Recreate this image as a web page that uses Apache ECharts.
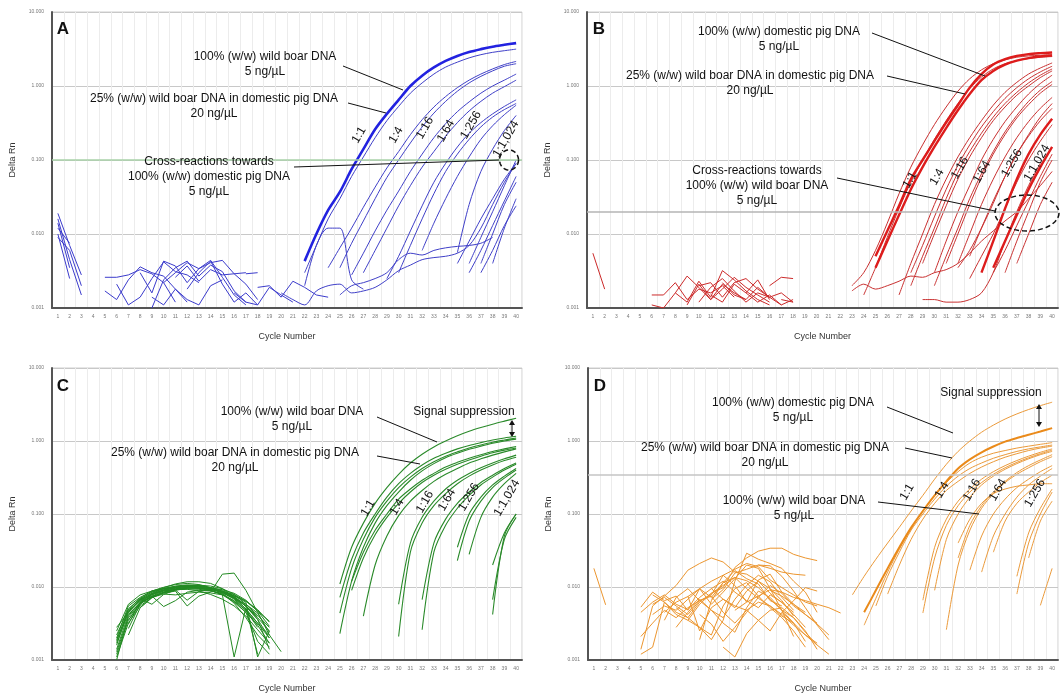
<!DOCTYPE html>
<html>
<head>
<meta charset="utf-8">
<script src="https://cdn.jsdelivr.net/npm/echarts@6/dist/echarts.min.js"></script>
<style>html,body{margin:0;padding:0;background:#fff}#chart{width:1064px;height:694px}</style>
</head>
<body>
<div id="chart"></div>
<script>
// cycle numbers (x categories)
var cycles = ['1','2','3','4','5','6','7','8','9','10','11','12','13','14','15','16','17','18','19','20',
              '21','22','23','24','25','26','27','28','29','30','31','32','33','34','35','36','37','38','39','40'];
var yTicks = [0.001, 0.01, 0.1, 1, 10];
var thresholds = [0.1, 0.019, null, 0.35];

// every curve: [first cycle, [Delta Rn values...]]
// ---- A : wild boar assay
var aMain = [
	[22, [0.0043,0.010,0.021,0.037,0.075,0.14,0.26,0.42,0.65,1.0,1.38,1.78,2.18,2.55,2.88,3.15,3.4,3.6,3.8]]
];
var aCurves = [
	[22, [0.003,0.007,0.016,0.03,0.06,0.11,0.2,0.34,0.53,0.8,1.1,1.45,1.8,2.1,2.4,2.65,2.85,3.0,3.15]],
	[24, [0.0035,0.0065,0.012,0.023,0.043,0.078,0.13,0.22,0.35,0.52,0.72,0.95,1.2,1.45,1.7,1.95,2.15]],
	[25, [0.0035,0.0075,0.015,0.03,0.058,0.1,0.17,0.28,0.43,0.62,0.85,1.1,1.35,1.6,1.85,2.0]],
	[26, [0.0028,0.0055,0.011,0.021,0.038,0.07,0.12,0.2,0.31,0.45,0.61,0.8,1.0,1.2,1.45]],
	[27, [0.003,0.006,0.012,0.024,0.045,0.08,0.13,0.21,0.32,0.46,0.62,0.8,0.98,1.2]],
	[29, [0.0025,0.005,0.011,0.024,0.05,0.09,0.15,0.23,0.32,0.42,0.53,0.65]],
	[30, [0.003,0.007,0.016,0.035,0.07,0.12,0.19,0.28,0.38,0.48,0.58]],
	[32, [0.006,0.014,0.03,0.06,0.11,0.19,0.29,0.41,0.55]],
	[35, [0.0056,0.025,0.07,0.14,0.25,0.4]],
	[35, [0.004,0.008,0.016,0.03,0.055,0.09]],
	[36, [0.004,0.009,0.02,0.045,0.1]],
	[36, [0.003,0.006,0.013,0.028,0.06]],
	[37, [0.004,0.01,0.025,0.05]],
	[38, [0.004,0.012,0.03]],
	[37, [0.003,0.006,0.013,0.024]],
	[20, [0.0016,0.0013,0.0011,0.0017,0.002,0.0021,0.0016,0.0017,0.0019,0.0024,0.0032,0.0038,0.0045,0.0048,0.005,0.0055,0.007,0.012,0.025,0.05,0.09]],
	[22, [0.002,0.007,0.012,0.012,0.0024,0.0018]],
	[25, [0.0015,0.002,0.0022,0.0025,0.003,0.0045,0.0055,0.0052,0.006,0.0065,0.0068,0.007,0.0075,0.009]]
];
var aNoise = [
	[1, [0.019,0.007,0.0028]], [1, [0.016,0.0045,0.0015]], [1, [0.012,0.0075]],
	[1, [0.010,0.0025]], [1, [0.009,0.006,0.002]], [1, [0.014,0.0035]],
	[5, [0.0026,0.0026,0.0028,0.0033,0.0029,0.0022,0.0012]],
	[5, [0.0017,0.0013,0.0024,0.0036,0.003,0.0027,0.0018,0.0012]],
	[6, [0.0021,0.0011,0.0014,0.0025,0.0042,0.0031,0.0028,0.0022]],
	[8, [0.003,0.0016,0.0043,0.0037,0.0022,0.0034,0.0044,0.0026,0.0015,0.0011]],
	[9, [0.001,0.0024,0.0035,0.0043,0.0027,0.0038,0.0031,0.0017,0.0012]],
	[10, [0.0022,0.003,0.0041,0.0034,0.0041,0.0044,0.0029,0.0021,0.0013]],
	[11, [0.0026,0.0037,0.0023,0.0033,0.0028,0.0029,0.003]],
	[12, [0.0018,0.003,0.0043,0.0021,0.0012,0.0016,0.0011]],
	[9, [0.0014,0.0011,0.0018,0.0013,0.0011,0.002,0.0024]],
	[16, [0.0016,0.0012,0.0011,0.0019,0.0015,0.0012]],
	[18, [0.0019,0.002,0.0014,0.0023,0.0019,0.0015,0.0014]],
	[17, [0.0029,0.003]]
];

// ---- B : domestic pig assay
var bMain = [
	[25, [0.005,0.011,0.024,0.055,0.1,0.18,0.32,0.55,0.95,1.45,1.95,2.3,2.55,2.7,2.78,2.84]],
	[25, [0.0035,0.008,0.018,0.04,0.08,0.15,0.27,0.47,0.78,1.2,1.6,1.95,2.2,2.38,2.5,2.58]],
	[34, [0.003,0.008,0.022,0.055,0.12,0.22,0.36]],
	[35, [0.0035,0.008,0.018,0.04,0.08,0.15]]
];
var bCurves = [
	[23, [0.002,0.003,0.006,0.014,0.035,0.08,0.16,0.3,0.52,0.85,1.25,1.65,2.0,2.25,2.45,2.55,2.6,2.65]],
	[24, [0.0015,0.0035,0.009,0.022,0.05,0.1,0.19,0.34,0.58,0.92,1.32,1.7,2.0,2.2,2.35,2.45,2.5]],
	[28, [0.003,0.007,0.017,0.04,0.085,0.16,0.28,0.45,0.68,0.95,1.25,1.55,1.85]],
	[29, [0.004,0.01,0.024,0.055,0.11,0.2,0.34,0.52,0.75,1.0,1.3,1.6]],
	[28, [0.002,0.005,0.012,0.03,0.068,0.13,0.23,0.38,0.58,0.82,1.1,1.4,1.7]],
	[27, [0.0015,0.004,0.01,0.025,0.055,0.11,0.2,0.34,0.55,0.82,1.12,1.45,1.75,2.05]],
	[30, [0.003,0.008,0.02,0.045,0.1,0.19,0.33,0.52,0.78,1.08,1.4]],
	[30, [0.002,0.005,0.012,0.03,0.065,0.13,0.24,0.4,0.62,0.88,1.15]],
	[31, [0.004,0.01,0.025,0.058,0.12,0.22,0.37,0.56,0.8,1.05]],
	[32, [0.004,0.01,0.025,0.055,0.11,0.2,0.33,0.5,0.7]],
	[32, [0.0035,0.006,0.012,0.026,0.06,0.12,0.22,0.38,0.58]],
	[33, [0.005,0.012,0.028,0.06,0.12,0.21,0.34,0.5]],
	[35, [0.003,0.006,0.013,0.028,0.06,0.12]],
	[36, [0.003,0.008,0.02,0.05,0.1]],
	[37, [0.004,0.01,0.025,0.05]],
	[33, [0.0025,0.005,0.01,0.022,0.05,0.1,0.18,0.3]],
	[23, [0.0017,0.0021,0.0018,0.002,0.0023,0.0027,0.0026,0.003,0.0033,0.004,0.0055,0.008,0.011,0.015,0.02,0.03,0.045,0.07]],
	[29, [0.0013,0.0013,0.0012,0.0012,0.0013,0.0016,0.003,0.008,0.02,0.045,0.09]]
];
var bNoise = [
	[1, [0.0055,0.0018]],
	[6, [0.0015,0.0015,0.0022,0.0013,0.0018,0.0016,0.002,0.0014]],
	[6, [0.0011,0.001,0.0016,0.0027,0.0019,0.0013,0.0021,0.0016,0.0013]],
	[8, [0.0016,0.0012,0.0023,0.0014,0.0032,0.0024,0.0017,0.0013,0.0011]],
	[9, [0.0011,0.0021,0.0013,0.0018,0.0026,0.0019,0.0015,0.0012]],
	[10, [0.002,0.0022,0.0014,0.0022,0.0025,0.0018,0.0014,0.0011]],
	[10, [0.0012,0.0019,0.0025,0.0017,0.0012,0.0016,0.0014]],
	[11, [0.0015,0.0012,0.0021,0.0016,0.0024,0.0013]],
	[12, [0.0022,0.0015,0.0013,0.0019,0.0014,0.0016,0.0012]],
	[16, [0.002,0.0026,0.0025]],
	[14, [0.0016,0.0012,0.0015,0.0011,0.0013]],
	[17, [0.0013,0.0012]]
];

// ---- C : wild boar assay, mixtures
var cCurves = [
	[25, [0.011,0.035,0.075,0.14,0.23,0.35,0.5,0.66,0.83,1.0,1.18,1.36,1.53,1.7,1.87,2.05]],
	[25, [0.0072,0.024,0.055,0.1,0.17,0.26,0.36,0.47,0.58,0.68,0.78,0.87,0.95,1.03,1.1,1.16]],
	[25, [0.0044,0.018,0.045,0.09,0.15,0.23,0.32,0.42,0.52,0.62,0.71,0.8,0.88,0.96,1.03,1.1]],
	[25, [0.0023,0.012,0.035,0.075,0.13,0.2,0.29,0.39,0.49,0.59,0.68,0.77,0.85,0.93,1.0,1.06]],
	[27, [0.004,0.02,0.05,0.095,0.15,0.21,0.28,0.35,0.42,0.5,0.57,0.64,0.71,0.78]],
	[26, [0.012,0.03,0.06,0.1,0.16,0.22,0.29,0.36,0.44,0.51,0.58,0.65,0.72,0.78,0.84]],
	[26, [0.009,0.025,0.052,0.09,0.14,0.2,0.27,0.34,0.41,0.48,0.55,0.62,0.69,0.75,0.8]],
	[30, [0.0021,0.03,0.075,0.13,0.19,0.26,0.33,0.4,0.47,0.54,0.6]],
	[30, [0.0058,0.04,0.09,0.15,0.22,0.29,0.36,0.43,0.5,0.57,0.64]],
	[32, [0.0026,0.03,0.07,0.12,0.18,0.25,0.32,0.4,0.48]],
	[32, [0.0067,0.04,0.085,0.14,0.2,0.27,0.34,0.42,0.5]],
	[35, [0.023,0.08,0.15,0.23,0.31,0.4]],
	[35, [0.035,0.1,0.17,0.25,0.33,0.42]],
	[36, [0.028,0.09,0.17,0.26,0.36]],
	[38, [0.0042,0.05,0.1]],
	[38, [0.0067,0.045,0.09]],
	[38, [0.02,0.055,0.1]]
];
var cNoise = [
	[6, [0.0028,0.0045,0.0068,0.0085,0.0095,0.01,0.0105,0.01,0.0095,0.0085,0.007,0.005,0.0032,0.002]],
	[6, [0.0012,0.0035,0.0058,0.0075,0.0088,0.0095,0.0098,0.0096,0.009,0.0078,0.0062,0.0045,0.003,0.0017]],
	[6, [0.002,0.0055,0.0072,0.0088,0.0099,0.0108,0.0112,0.0108,0.0098,0.0085,0.0068,0.0048,0.0028]],
	[6, [0.0016,0.0048,0.0065,0.0082,0.0095,0.0103,0.0107,0.0105,0.0097,0.0082,0.006,0.0038,0.0022,0.0015]],
	[7, [0.0022,0.0052,0.0072,0.0085,0.0093,0.0098,0.0096,0.009,0.0079,0.0065,0.0048,0.003]],
	[6, [0.001,0.004,0.0062,0.0078,0.0088,0.0092,0.0093,0.0088,0.0079,0.0068,0.0055,0.004,0.0026,0.0017]],
	[6, [0.0025,0.0058,0.0078,0.0088,0.0095,0.0098,0.0102,0.0102,0.0098,0.009,0.0075,0.0055,0.004]],
	[7, [0.0035,0.006,0.0075,0.0054,0.0065,0.0085,0.009,0.0088,0.0082,0.007,0.0055,0.0038,0.0025]],
	[8, [0.006,0.0075,0.0082,0.0088,0.0055,0.0075,0.0085,0.015,0.0155,0.009,0.0045,0.0022,0.0013]],
	[6, [0.0018,0.005,0.007,0.0088,0.0098,0.011,0.0118,0.0118,0.0112,0.0095,0.0072,0.005,0.0032,0.0022]],
	[7, [0.0045,0.0068,0.0085,0.0095,0.0102,0.0105,0.0104,0.0098,0.0088,0.0072,0.0055,0.0036,0.002]],
	[6, [0.0014,0.0042,0.006,0.0072,0.008,0.0078,0.0082,0.0085,0.0083,0.0078,0.0011,0.0052,0.0012]],
	[6, [0.0011,0.0032,0.0055,0.0072,0.0083,0.009,0.0096,0.0099,0.0097,0.0092,0.0082,0.0066,0.0047,0.0029]],
	[6, [0.0019,0.0046,0.0067,0.0081,0.0092,0.0099,0.0102,0.0099,0.0093,0.0084,0.0071,0.0058,0.0044,0.0024]],
	[7, [0.0027,0.0058,0.0079,0.0091,0.0099,0.0104,0.0106,0.0103,0.0095,0.0079,0.0058,0.0041,0.0028]],
	[6, [0.0013,0.0038,0.006,0.0074,0.0085,0.0092,0.0094,0.0093,0.0089,0.008,0.0064,0.0045,0.0018,0.0012]],
	[7, [0.0031,0.0062,0.0081,0.009,0.0098,0.0101,0.0099,0.0094,0.0086,0.0076,0.0064,0.0049,0.0033]],
	[6, [0.0022,0.005,0.0069,0.0058,0.0079,0.0091,0.0066,0.0087,0.0092,0.0086,0.0074,0.0054,0.0036,0.0014]],
	[8, [0.0052,0.0071,0.0084,0.0093,0.0096,0.0097,0.0093,0.0086,0.0076,0.0062,0.0011,0.0025]],
	[6, [0.0017,0.0044,0.0064,0.0079,0.009,0.0096,0.0099,0.0098,0.0093,0.0087,0.0079,0.0064,0.0047,0.0034]]
];

// ---- D : domestic pig assay, mixtures
var dMain = [
	[24, [0.0045,0.009,0.018,0.035,0.065,0.11,0.18,0.28,0.42,0.56,0.7,0.84,0.98,1.1,1.22,1.35,1.5]]
];
var dCurves = [
	[23, [0.0078,0.014,0.024,0.04,0.066,0.11,0.18,0.3,0.48,0.72,1.0,1.32,1.65,2.0,2.35,2.7,3.05,3.4]],
	[24, [0.003,0.007,0.016,0.033,0.063,0.11,0.18,0.27,0.38,0.5,0.6,0.68,0.74,0.8,0.85,0.9,0.95]],
	[25, [0.0055,0.014,0.03,0.06,0.1,0.16,0.24,0.33,0.42,0.5,0.58,0.65,0.72,0.78,0.83,0.88]],
	[26, [0.008,0.02,0.045,0.085,0.14,0.21,0.28,0.36,0.44,0.52,0.6,0.67,0.74,0.8,0.85]],
	[29, [0.0044,0.025,0.07,0.13,0.2,0.27,0.35,0.43,0.51,0.59,0.67,0.75]],
	[29, [0.0066,0.035,0.085,0.15,0.22,0.3,0.38,0.46,0.54,0.62,0.7,0.78]],
	[30, [0.009,0.045,0.1,0.17,0.25,0.33,0.41,0.49,0.57,0.65,0.72]],
	[31, [0.0026,0.02,0.06,0.12,0.19,0.27,0.35,0.43,0.52,0.61]],
	[32, [0.025,0.07,0.13,0.2,0.28,0.37,0.46,0.55,0.65]],
	[32, [0.04,0.085,0.14,0.19,0.22,0.24,0.25,0.26,0.26]],
	[33, [0.017,0.05,0.1,0.16,0.23,0.3,0.38,0.46]],
	[34, [0.016,0.05,0.1,0.17,0.25,0.33,0.42]],
	[35, [0.03,0.08,0.14,0.2,0.27,0.34]],
	[37, [0.008,0.04,0.1,0.2]],
	[37, [0.014,0.055,0.12,0.22]],
	[38, [0.025,0.08,0.15]],
	[39, [0.0056,0.018]]
];
var dNoise = [
	[1, [0.018,0.0057]],
	[5, [0.0053,0.0085,0.0065,0.0075,0.0048,0.0095,0.0072,0.0115,0.0168,0.013,0.011,0.0065,0.0055]],
	[5, [0.0014,0.0055,0.0075,0.0105,0.017,0.021,0.025,0.022,0.016,0.015,0.012,0.0095,0.0065,0.004]],
	[5, [0.0012,0.0015,0.0062,0.0045,0.0038,0.0028,0.0019,0.0035,0.012,0.029,0.024,0.021,0.018,0.012,0.0085,0.0045]],
	[6, [0.0042,0.0055,0.0048,0.0068,0.0095,0.0058,0.0085,0.013,0.02,0.018,0.0095,0.0048,0.0021]],
	[6, [0.0078,0.0062,0.0042,0.0035,0.0028,0.0022,0.0055,0.0095,0.0115,0.0075,0.0052,0.0038,0.0025,0.0015]],
	[7, [0.0035,0.0072,0.0095,0.0065,0.0078,0.0145,0.0105,0.0062,0.0125,0.015,0.0085,0.0058,0.0045]],
	[8, [0.0052,0.0038,0.0062,0.0082,0.0098,0.0185,0.025,0.031,0.034,0.034,0.028,0.025,0.023]],
	[9, [0.0075,0.0025,0.0052,0.0068,0.0055,0.0048,0.0035,0.0025,0.0045,0.0065,0.0098,0.0088]],
	[10, [0.0019,0.0065,0.0115,0.0135,0.0095,0.007,0.0055,0.0042,0.003,0.0022,0.0017]],
	[11, [0.0068,0.0092,0.0155,0.0175,0.02,0.0195,0.014,0.0088,0.0052,0.003,0.0019]],
	[12, [0.0015,0.0011,0.0023,0.0035,0.0048,0.0052,0.0038,0.0025,0.0014]],
	[5, [0.0021,0.0032,0.0048,0.0038,0.0052,0.0065,0.0075,0.0045,0.0032,0.0048,0.0062,0.0055,0.004,0.0032]],
	[15, [0.02,0.018,0.016,0.015,0.0145]],
	[17, [0.0045,0.0032,0.0022,0.0016,0.0012]],
	[16, [0.009,0.0075,0.0058,0.0042,0.0031,0.0022]],
	[5, [0.0045,0.0062,0.0078,0.0058,0.0049,0.0072,0.0095,0.0068,0.0052,0.0088,0.012,0.0082,0.0061,0.0045]],
	[6, [0.0058,0.0072,0.0055,0.0042,0.0065,0.0048,0.0038,0.0068,0.0105,0.0145,0.0118,0.0072,0.0048]],
	[7, [0.0045,0.0062,0.0074,0.0095,0.012,0.0145,0.0175,0.021,0.019,0.0125,0.0098,0.0078,0.0062,0.0055]],
	[8, [0.0028,0.0045,0.0068,0.0048,0.0032,0.0024,0.0052,0.0088,0.0072,0.0048,0.0032,0.0018]],
	[9, [0.0035,0.0058,0.0082,0.0105,0.0135,0.0122,0.0098,0.0068,0.0048,0.0038,0.0024,0.0016]],
	[10, [0.0042,0.0031,0.0018,0.0028,0.0045,0.0072,0.0105,0.0082,0.0055,0.0042,0.0032]],
	[11, [0.0095,0.012,0.0085,0.0065,0.0052,0.0078,0.0062,0.0042,0.0028]],
	[13, [0.0048,0.0062,0.0075,0.0092,0.0085,0.0072,0.0065,0.0058,0.0052,0.0044]]
];

var chart = echarts.init(document.getElementById('chart'));

var grids = [
	{left: 52, top: 12, width: 470, height: 296},
	{left: 587, top: 12, width: 471, height: 296},
	{left: 52, top: 368, width: 470, height: 296},
	{left: 588, top: 368, width: 470, height: 296}
];
grids.forEach(function (g) { g.show = true; g.borderColor = '#cfcfcf'; g.borderWidth = 1; });

var xAxes = [], yAxes = [], series = [];
grids.forEach(function (g, i) {
	xAxes.push({
		type: 'category', gridIndex: i, data: cycles, boundaryGap: true,
		name: 'Cycle Number', nameLocation: 'middle', nameGap: 24,
		nameTextStyle: {fontSize: 9, color: '#333', fontFamily: 'Liberation Sans'},
		axisLine: {lineStyle: {color: '#555', width: 2}},
		axisTick: {show: false},
		axisLabel: {interval: 0, fontSize: 5, color: '#777', margin: 6},
		splitLine: {show: true, interval: 0, lineStyle: {color: '#ececec', width: 1}}
	});
	yAxes.push({
		type: 'log', gridIndex: i, logBase: 10, min: yTicks[0], max: yTicks[yTicks.length - 1],
		name: 'Delta Rn', nameLocation: 'middle', nameGap: 35,
		nameTextStyle: {fontSize: 9, color: '#333', fontFamily: 'Liberation Sans'},
		axisLine: {show: true, lineStyle: {color: '#555', width: 2}},
		axisTick: {show: false},
		axisLabel: {fontSize: 5, color: '#777', margin: 8, formatter: function (v) { return v.toFixed(3); }},
		splitLine: {show: true, lineStyle: {color: '#c8c8c8', width: 1}},
		minorSplitLine: {show: false}
	});
});

function pad(start, vals) {
	var d = [];
	for (var i = 1; i <= cycles.length; i++) {
		var k = i - start;
		d.push(k >= 0 && k < vals.length ? vals[k] : '-');
	}
	return d;
}

function addLines(list, idx, color, width, smooth) {
	list.forEach(function (c) {
		series.push({
			type: 'line', xAxisIndex: idx, yAxisIndex: idx, data: pad(c[0], c[1]),
			symbol: 'none', smooth: smooth, silent: true, z: 3,
			lineStyle: {color: color, width: width}
		});
	});
}

// threshold lines
var thrColors = ['#a8d2a8', '#b5b5b5', null, '#c4c4c4'];
thresholds.forEach(function (t, i) {
	if (t === null) return;
	series.push({
		type: 'line', xAxisIndex: i, yAxisIndex: i, data: pad(1, [t]), symbol: 'none', silent: true,
		lineStyle: {opacity: 0},
		markLine: {silent: true, symbol: 'none', label: {show: false},
			lineStyle: {color: thrColors[i], width: 1.5, type: 'solid'}, data: [{yAxis: t}]}
	});
});

addLines(aNoise, 0, '#3b3bcc', 1, false);
addLines(aCurves, 0, '#3f3fc8', 1, 0.3);
addLines(aMain, 0, '#2222e0', 2.6, 0.3);
addLines(bNoise, 1, '#cc2a2a', 1, false);
addLines(bCurves, 1, '#c93030', 1, 0.3);
addLines(bMain, 1, '#dd1c1c', 2.4, 0.3);
addLines(cNoise, 2, '#228a22', 1, false);
addLines(cCurves, 2, '#2a8a2a', 1.1, 0.3);
addLines(dNoise, 3, '#ec962f', 1, false);
addLines(dCurves, 3, '#eb9a3a', 1, 0.3);
addLines(dMain, 3, '#ea8a1a', 2, 0.3);

// annotations
var FONT = '"Liberation Sans", Arial, sans-serif';
var graphic = [];
function txt(x, y, s, size, bold) {
	graphic.push({type: 'text', x: x, y: y, z: 10, silent: true,
		style: {text: s, fill: '#111', font: (bold ? 'bold ' : '') + size + 'px ' + FONT,
			align: 'center', verticalAlign: 'middle', lineHeight: 15}});
}
function rot(x, y, s) {
	graphic.push({type: 'text', x: x, y: y, rotation: Math.PI / 3, z: 10, silent: true,
		style: {text: s, fill: '#111', font: '12px ' + FONT, align: 'center', verticalAlign: 'middle'}});
}
function seg(x1, y1, x2, y2) {
	graphic.push({type: 'line', z: 10, silent: true, shape: {x1: x1, y1: y1, x2: x2, y2: y2},
		style: {stroke: '#111', lineWidth: 1}});
}
function ellipse(cx, cy, rx, ry) {
	var pts = [];
	for (var k = 0; k < 48; k++) {
		var a = k / 48 * Math.PI * 2;
		pts.push([cx + rx * Math.cos(a), cy + ry * Math.sin(a)]);
	}
	graphic.push({type: 'polygon', z: 10, silent: true, shape: {points: pts},
		style: {fill: 'none', stroke: '#111', lineWidth: 1.5, lineDash: [5, 3]}});
}
function arrow(x, y1, y2) {
	seg(x, y1 + 3, x, y2 - 3);
	graphic.push({type: 'polygon', z: 10, silent: true, shape: {points: [[x, y1], [x - 3, y1 + 5], [x + 3, y1 + 5]]}, style: {fill: '#111'}});
	graphic.push({type: 'polygon', z: 10, silent: true, shape: {points: [[x, y2], [x - 3, y2 - 5], [x + 3, y2 - 5]]}, style: {fill: '#111'}});
}

txt(63, 29, 'A', 17, true);
txt(599, 29, 'B', 17, true);
txt(63, 386, 'C', 17, true);
txt(600, 386, 'D', 17, true);

// A
txt(265, 64.5, '100% (w/w) wild boar DNA\n5 ng/µL', 12);
txt(214, 106.5, '25% (w/w) wild boar DNA in domestic pig DNA\n20 ng/µL', 12);
txt(209, 177, 'Cross-reactions towards\n100% (w/w) domestic pig DNA\n5 ng/µL', 12);
seg(343, 66, 403, 90); seg(348, 103, 386, 113); seg(294, 167, 499, 160);
ellipse(509, 160, 9.5, 10);
rot(359, 135, '1:1'); rot(396, 135, '1:4'); rot(425, 128, '1:16');
rot(446, 131, '1:64'); rot(471, 125, '1:256'); rot(506, 139, '1:1,024');

// B
txt(779, 39.5, '100% (w/w) domestic pig DNA\n5 ng/µL', 12);
txt(750, 83.5, '25% (w/w) wild boar DNA in domestic pig DNA\n20 ng/µL', 12);
txt(757, 186, 'Cross-reactions towards\n100% (w/w) wild boar DNA\n5 ng/µL', 12);
seg(872, 33, 985, 76); seg(887, 76, 965, 94); seg(837, 178, 995, 211);
ellipse(1027, 213, 32, 18);
rot(910, 180, '1:1'); rot(937, 177, '1:4'); rot(960, 168, '1:16');
rot(982, 172, '1:64'); rot(1012, 163, '1:256'); rot(1037, 163, '1:1,024');

// C
txt(292, 419, '100% (w/w) wild boar DNA\n5 ng/µL', 12);
txt(235, 460, '25% (w/w) wild boar DNA in domestic pig DNA\n20 ng/µL', 12);
txt(464, 412, 'Signal suppression', 12);
seg(377, 417, 437, 442); seg(377, 456, 420, 464);
arrow(512, 420, 437);
rot(368, 508, '1:1'); rot(397, 507, '1:4'); rot(425, 502, '1:16');
rot(447, 500, '1:64'); rot(469, 497, '1:256'); rot(507, 498, '1:1,024');

// D
txt(793, 410.5, '100% (w/w) domestic pig DNA\n5 ng/µL', 12);
txt(765, 455, '25% (w/w) wild boar DNA in domestic pig DNA\n20 ng/µL', 12);
txt(794, 508.5, '100% (w/w) wild boar DNA\n5 ng/µL', 12);
txt(991, 393, 'Signal suppression', 12);
seg(887, 407, 953, 433); seg(905, 448, 952, 458); seg(878, 502, 979, 514);
arrow(1039, 404, 427);
rot(907, 492, '1:1'); rot(942, 490, '1:4'); rot(972, 490, '1:16');
rot(998, 490, '1:64'); rot(1035, 493, '1:256');

chart.setOption({
	animation: false,
	backgroundColor: '#fff',
	textStyle: {fontFamily: FONT},
	grid: grids,
	xAxis: xAxes,
	yAxis: yAxes,
	series: series,
	graphic: graphic
});
</script>
</body>
</html>
